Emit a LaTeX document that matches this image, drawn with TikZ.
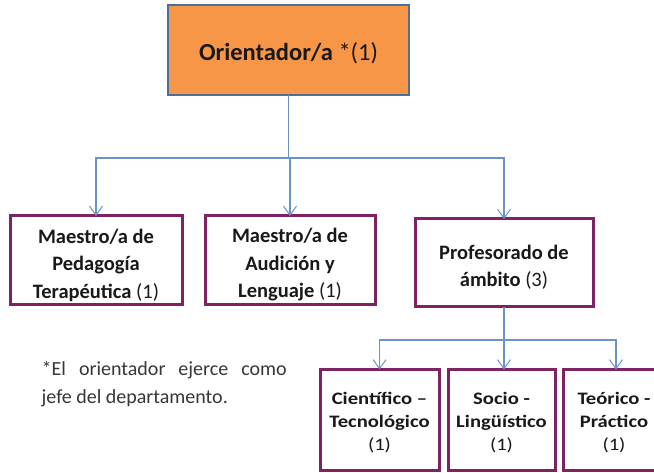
\documentclass[tikz,border=0pt]{standalone}
\usepackage{fontspec}
\setmainfont{Carlito}
\newfontfamily\widefont{Carlito}[FakeStretch=1.18]
\usetikzlibrary{arrows.meta}
\definecolor{orfill}{RGB}{247,150,70}
\definecolor{orline}{RGB}{79,110,153}
\definecolor{purp}{RGB}{126,34,100}
\definecolor{conn}{RGB}{104,148,200}
\definecolor{txt}{RGB}{25,25,25}
\definecolor{notetxt}{RGB}{55,55,55}
\tikzset{
  topbox/.style={draw=orline, fill=orfill, line width=2.6pt, minimum width=241pt, minimum height=90pt, inner sep=0pt, outer sep=0pt},
  toptxt/.style={inner sep=0pt, text=txt, font=\fontsize{24.5}{29}\selectfont},
  midbox/.style={draw=purp, fill=white, line width=3pt, minimum height=89pt, inner sep=0pt, outer sep=0pt},
  midtxt/.style={inner sep=0pt, align=center, text=txt, font=\fontsize{20.5}{27.5}\selectfont},
  lowbox/.style={draw=purp, fill=white, line width=3pt, minimum height=101pt, inner sep=0pt, outer sep=0pt},
  lowtxt/.style={inner sep=0pt, align=center, text=txt, font=\widefont\fontsize{17.5}{23}\selectfont},
  notetext/.style={anchor=base west, inner sep=0pt, text=notetxt, font=\fontsize{20}{27}\selectfont},
  conline/.style={draw=conn, line width=1.1pt},
  conarrow/.style={conline, -{Straight Barb[length=9pt,width=13pt,line width=1pt]}},
}
\begin{document}
\begin{tikzpicture}[x=1pt,y=-1pt]
\useasboundingbox (0,0) rectangle (654,473);
\clip (0,0) rectangle (654,473);
\fill[white] (0,0) rectangle (654,473);
% boxes
\node[topbox] (top) at (288.5,50) {};
\node[midbox, minimum width=172pt] (b1) at (96,260.5) {};
\node[midbox, minimum width=170pt] (b2) at (290,260.5) {};
\node[midbox, minimum width=178pt, minimum height=88pt] (b3) at (504,263) {};
\node[lowbox, minimum width=119pt] (b4) at (379.5,420) {};
\node[lowbox, minimum width=107pt] (b5) at (501.5,420) {};
\node[lowbox, minimum width=106pt] (b6) at (616,420) {};
% texts
\node[toptxt] (topt) at ([yshift=-3.5pt]top.center) {\textbf{Orientador/a} *(1)};
\node[midtxt] (b1t) at ([yshift=-4.5pt]b1.center) {\textbf{Maestro/a de}\\\textbf{Pedagogía}\\\textbf{Terapéutica} (1)};
\node[midtxt] (b2t) at ([yshift=-4.5pt]b2.center) {\textbf{Maestro/a de}\\\textbf{Audición y}\\\textbf{Lenguaje} (1)};
\node[midtxt] (b3t) at ([yshift=-4pt]b3.center) {\textbf{Profesorado de}\\\textbf{ámbito} (3)};
\node[lowtxt] (b4t) at ([yshift=-3pt]b4.center) {\textbf{Científico –}\\\textbf{Tecnológico}\\(1)};
\node[lowtxt] (b5t) at ([yshift=-3pt]b5.center) {\textbf{Socio -}\\\textbf{Lingüístico}\\(1)};
\node[lowtxt] (b6t) at ([yshift=-3pt,xshift=-2pt]b6.center) {\textbf{Teórico -}\\\textbf{Práctico}\\(1)};
\node[notetext] (note1) at (41.5,376) {\hbox to 245pt{*El\hfill orientador\hfill ejerce\hfill como}};
\node[notetext] (note2) at (41.5,403) {jefe del departamento.};
% connectors
\coordinate (j1) at (288.5,158);
\coordinate (j2) at (504,340);
\draw[conline] (top.south) -- (j1);
\draw[conarrow] (j1) -| (b1.north);
\draw[conarrow] (j1) -| (b3.north);
\draw[conarrow] (j1 -| b2.north) -- (b2.north);
\draw[conline] (b3.south) -- (j2);
\draw[conarrow] (j2) -| (b4.north);
\draw[conarrow] (j2) -| (b6.north);
\draw[conarrow] (j2) -- (j2 |- b5.north);
\end{tikzpicture}
\end{document}
